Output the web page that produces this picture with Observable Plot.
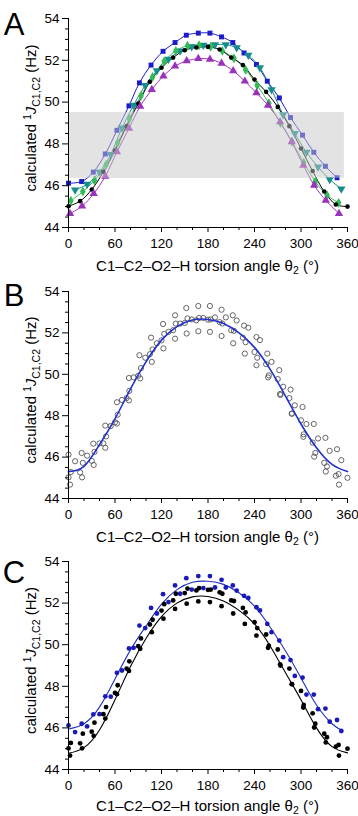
<!DOCTYPE html>
<html><head><meta charset="utf-8">
<script src="https://cdn.jsdelivr.net/npm/d3@7"></script>
<script src="https://cdn.jsdelivr.net/npm/@observablehq/plot@0.6"></script>
<style>
html,body{margin:0;padding:0;background:#fff;}
#chart{width:358px;}
#chart svg{display:block;overflow:visible;}
</style></head><body><div id="chart"></div>
<script>
// ---------- data ----------
const blueX = [0,17,32,47.5,62.5,78,91.5,106.5,122,137.5,152,167.5,182.5,197.5,212,226.5,242.5,256.5,272,286.5,302,316.5,331.5,346.5];
const blueY = [46.12,46.2,46.65,47.52,48.65,49.82,50.92,51.77,52.43,52.85,53.2,53.3,53.3,53.12,52.85,52.35,51.8,51.0,50.2,49.26,48.42,47.6,46.93,46.38];
const tealX = [8.5,24,40,54.5,69,84,99,114,129,144,159,174,189,203,217,232,247,262,277,292,307,322,337,352];
const tealY = [45.8,46.07,46.66,47.5,48.76,49.85,50.8,51.5,52.05,52.45,52.65,52.72,52.75,52.75,52.6,52.25,51.65,50.6,49.4,48.5,47.6,46.9,46.3,45.85];
const greenX = [3,18.5,33.5,48.5,63.5,78.5,93.5,108.5,123.5,138.5,153.5,168.5,183.5,198.5,213.5,228.5,243.5,258.5,273.5,288.5,303.5,318.5,333.5,348.5];
const greenY = [45.28,45.72,46.25,47.0,48.05,49.2,50.3,51.2,51.95,52.45,52.7,52.72,52.65,52.45,52.1,51.55,50.8,49.95,49.0,48.1,47.1,46.2,45.55,45.18];
const blackX = [0,15,30,45,60,75,90,105,120,135,150,165,180,195,210,225,240,255,270,285,300,315,330,345,360];
const blackY = [45.02,45.26,45.82,46.66,47.68,48.85,49.93,50.97,51.64,52.13,52.48,52.61,52.64,52.52,52.13,51.77,51.08,50.49,49.77,48.85,47.78,46.7,45.72,45.1,45.0];
const purpleX = [2,17.5,32.5,47.5,62.5,78,92.5,107.5,122.5,137.5,152.5,167.5,182.5,197.5,212.5,227.5,242.5,257.5,273,288,303,317,332,349];
const purpleY = [44.67,45.02,45.62,46.45,47.62,48.74,49.8,50.6,51.25,51.72,51.97,52.08,52.05,51.85,51.5,51.0,50.44,49.85,49.05,48.1,46.98,46.02,45.3,44.67];

// fitted curves (panels B and C)
const fitX = [0,20,40,60,80,100,120,140,160,180,200,220,240,260,280,300,320,340,360];
const fitBY = [45.3,45.55,46.6,47.85,49.3,50.6,51.65,52.3,52.62,52.65,52.45,52.0,51.3,50.25,48.95,47.6,46.45,45.65,45.3];
const fitCBlueX = [0,20,40,60,80,100,120,140,160,180,200,220,240,260,280,300,320,340,354];
const fitCBlueY = [45.95,46.2,47.0,48.35,49.75,50.9,51.95,52.65,53.0,53.05,52.9,52.5,51.85,50.85,49.7,48.4,47.1,46.2,45.85];
const fitCBlackY = [44.78,45.05,45.9,47.35,48.95,50.3,51.35,52.0,52.3,52.32,52.1,51.65,51.0,49.95,48.65,47.35,46.0,45.1,44.8];

// shaded range in panel A
const bandX = [0, 356];
const bandY = [46.35, 49.5];

// ticks and text
const xMajorTicks = [0,60,120,180,240,300,360];
const xMinorTicks = [20,40,80,100,140,160,200,220,260,280,320,340];
const yMajorTicks = [44,46,48,50,52,54];
const yMinorTicks = [44.5,45,45.5,46.5,47,47.5,48.5,49,49.5,50.5,51,51.5,52.5,53,53.5];
const panelLetters = ["A","B","C"];
const xTitleMain = "C1\u2013C2\u2013O2\u2013H torsion angle \u03b8";
const xTitleSub = "2";
const xTitleEnd = " (\u00b0)";
const yTitleMain = "calculated ";
const yTitleSup = "1";
const yTitleJ = "J";
const yTitleSub = "C1,C2";
const yTitleEnd = " (Hz)";

// ---------- helpers ----------
const FONT = "'Liberation Sans', Arial, Helvetica, sans-serif";
const rows = (xs, ys) => xs.map((x, i) => ({x, y: ys[i]}));
const COL = {blue: "#1c1cc8", teal: "#178c8c", green: "#33bb55", black: "#000000", purple: "#9933bb"};
const triangleDown = {
  draw(context, size) {
    const y = -Math.sqrt(size / (Math.sqrt(3) * 3));
    context.moveTo(0, -y * 2);
    context.lineTo(-Math.sqrt(3) * y, y);
    context.lineTo(Math.sqrt(3) * y, y);
    context.closePath();
  }
};

function axes() {
  return [
    Plot.ruleX([0], {stroke: "#000", strokeWidth: 1}),
    Plot.ruleY([44], {stroke: "#000", strokeWidth: 1}),
    Plot.axisX({ticks: xMajorTicks, tickSize: 5, tickPadding: 6, label: null, tickFormat: d3.format("d"), fontSize: 13.5}),
    Plot.axisX({ticks: xMinorTicks, tickSize: 3, text: null, label: null}),
    Plot.axisY({ticks: yMajorTicks, tickSize: 6, tickPadding: 3, label: null, tickFormat: d3.format("d"), fontSize: 13.5}),
    Plot.axisY({ticks: yMinorTicks, tickSize: 3, text: null, label: null})
  ];
}

function makePlot(cfg, marks) {
  const svg = Plot.plot({
    width: 358, height: cfg.height,
    marginTop: cfg.mt, marginBottom: cfg.mb, marginLeft: 68, marginRight: 11,
    x: {domain: [0, 360]},
    y: {domain: [44, 54]},
    style: {fontFamily: FONT, fontSize: "13.5px", color: "#000", background: "#fff", overflow: "visible"},
    marks: [...marks, ...axes()]
  });
  const s = d3.select(svg);
  const axisY = cfg.height - cfg.mb;
  s.append("text").attr("x", 14).attr("y", cfg.letterY)
    .attr("font-family", FONT).attr("font-size", 31).attr("fill", "#000").text(cfg.letter);
  const yt = s.append("text")
    .attr("transform", `translate(36,${cfg.yTitleC}) rotate(-90)`)
    .attr("text-anchor", "middle").attr("font-family", FONT).attr("font-size", 15).attr("fill", "#000");
  yt.append("tspan").text(yTitleMain);
  yt.append("tspan").attr("dy", -5.5).attr("font-size", 10).text(yTitleSup);
  yt.append("tspan").attr("dy", 5.5).attr("font-style", "italic").text(yTitleJ);
  yt.append("tspan").attr("dy", 3.5).attr("font-size", 10.5).text(yTitleSub);
  yt.append("tspan").attr("dy", -3.5).text(yTitleEnd);
  const xt = s.append("text").attr("x", 207.5).attr("y", axisY + cfg.titleGap)
    .attr("text-anchor", "middle").attr("font-family", FONT).attr("font-size", 15).attr("fill", "#000");
  xt.append("tspan").text(xTitleMain);
  xt.append("tspan").attr("dy", 3).attr("font-size", 10.5).text(xTitleSub);
  xt.append("tspan").attr("dy", -3).text(xTitleEnd);
  document.getElementById("chart").append(svg);
}

const seriesA = [
  {xs: blueX, ys: blueY, color: COL.blue, symbol: "square", r: 2.8},
  {xs: tealX, ys: tealY, color: COL.teal, symbol: triangleDown, r: 3.1},
  {xs: greenX, ys: greenY, color: COL.green, symbol: "diamond", r: 3.0},
  {xs: blackX, ys: blackY, color: COL.black, symbol: "circle", r: 2.3},
  {xs: purpleX, ys: purpleY, color: COL.purple, symbol: "triangle", r: 3.1}
];

// ---------- Panel A ----------
const marksA = [];
for (const s of seriesA) {
  marksA.push(Plot.line(rows(s.xs, s.ys), {x: "x", y: "y", stroke: s.color, strokeWidth: 1, curve: "catmull-rom"}));
}
for (const s of seriesA) {
  marksA.push(Plot.dot(rows(s.xs, s.ys), {x: "x", y: "y", fill: s.color, stroke: "none", symbol: s.symbol, r: s.r}));
}
marksA.push(Plot.rect([{x1: bandX[0], x2: bandX[1], y1: bandY[0], y2: bandY[1]}],
  {x1: "x1", x2: "x2", y1: "y1", y2: "y2", fill: "#c8c8c8", fillOpacity: 0.5}));
makePlot({height: 278, mt: 18, mb: 51, letter: panelLetters[0], letterY: 35, yTitleC: 118, titleGap: 44}, marksA);

// ---------- Panel B ----------
const allPts = seriesA.flatMap(s => rows(s.xs, s.ys));
makePlot({height: 268, mt: 13, mb: 48, letter: panelLetters[1], letterY: 28, yTitleC: 112, titleGap: 44}, [
  Plot.dot(allPts, {x: "x", y: "y", r: 2.6, fill: "none", stroke: "#555", strokeWidth: 0.9}),
  Plot.line(rows(fitX, fitBY), {x: "x", y: "y", stroke: "#2030cc", strokeWidth: 1.6, curve: "natural"})
]);

// ---------- Panel C ----------
const bluePts = [...rows(blueX, blueY), ...rows(tealX, tealY)];
const blackPts = [...rows(blackX, blackY), ...rows(greenX, greenY), ...rows(purpleX, purpleY)];
makePlot({height: 270, mt: 15, mb: 47, letter: panelLetters[2], letterY: 37, yTitleC: 114.5, titleGap: 41.5}, [
  Plot.line(rows(fitCBlueX, fitCBlueY), {x: "x", y: "y", stroke: "#2030c0", strokeWidth: 1.1, curve: "natural"}),
  Plot.line(rows(fitX, fitCBlackY), {x: "x", y: "y", stroke: "#000", strokeWidth: 1.1, curve: "natural"}),
  Plot.dot(bluePts, {x: "x", y: "y", r: 2.4, fill: "#1a1ab8", stroke: "none"}),
  Plot.dot(blackPts, {x: "x", y: "y", r: 2.4, fill: "#000", stroke: "none"})
]);
</script></body></html>
